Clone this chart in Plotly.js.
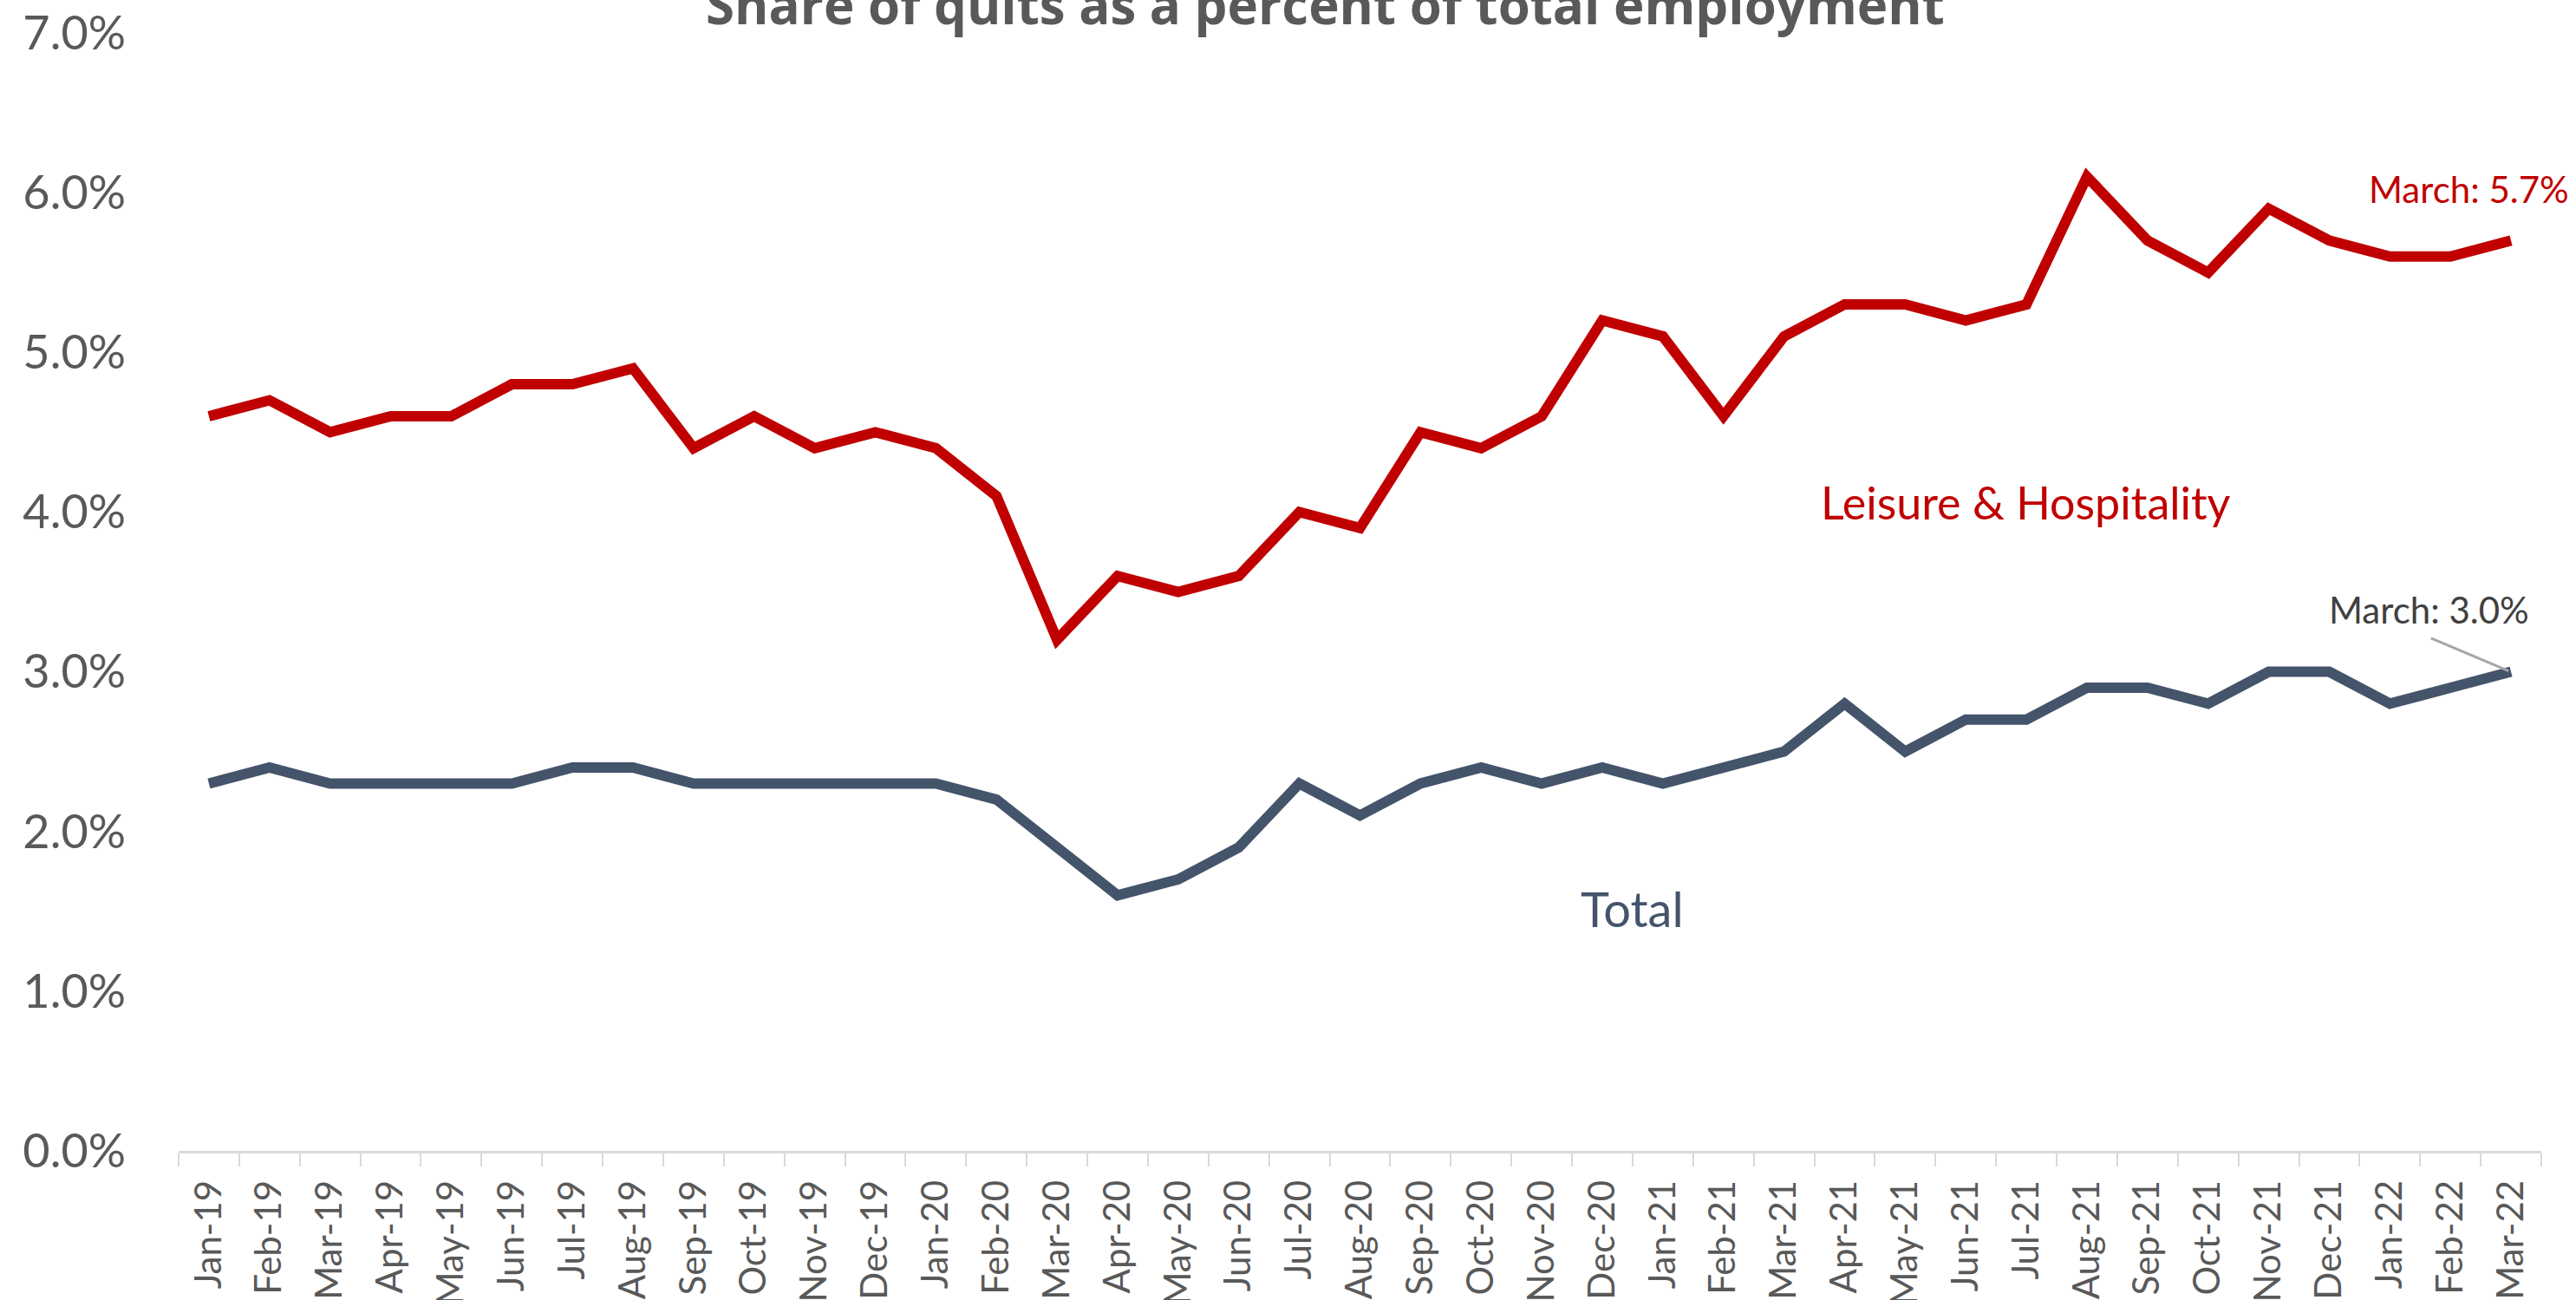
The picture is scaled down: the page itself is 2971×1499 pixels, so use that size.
<!DOCTYPE html>
<html>
<head>
<meta charset="utf-8">
<script src="https://cdn.plot.ly/plotly-3.0.1.min.js"></script>
<style>html,body{margin:0;padding:0;background:#fff;}#chart{width:2971px;height:1499px;}</style>
</head>
<body>
<div id="chart"></div>
<script>
const months = ["Jan-19","Feb-19","Mar-19","Apr-19","May-19","Jun-19","Jul-19","Aug-19","Sep-19","Oct-19","Nov-19","Dec-19",
"Jan-20","Feb-20","Mar-20","Apr-20","May-20","Jun-20","Jul-20","Aug-20","Sep-20","Oct-20","Nov-20","Dec-20",
"Jan-21","Feb-21","Mar-21","Apr-21","May-21","Jun-21","Jul-21","Aug-21","Sep-21","Oct-21","Nov-21","Dec-21",
"Jan-22","Feb-22","Mar-22"];
const leisureHospitality = [4.6,4.7,4.5,4.6,4.6,4.8,4.8,4.9,4.4,4.6,4.4,4.5,
4.4,4.1,3.2,3.6,3.5,3.6,4.0,3.9,4.5,4.4,4.6,5.2,
5.1,4.6,5.1,5.3,5.3,5.2,5.3,6.1,5.7,5.5,5.9,5.7,
5.6,5.6,5.7];
const total = [2.3,2.4,2.3,2.3,2.3,2.3,2.4,2.4,2.3,2.3,2.3,2.3,
2.3,2.2,1.9,1.6,1.7,1.9,2.3,2.1,2.3,2.4,2.3,2.4,
2.3,2.4,2.5,2.8,2.5,2.7,2.7,2.9,2.9,2.8,3.0,3.0,
2.8,2.9,3.0];
const yTicks = [0,1,2,3,4,5,6,7];
const yTickText = ["0.0%","1.0%","2.0%","3.0%","4.0%","5.0%","6.0%","7.0%"];

const RED = "#C00000", SLATE = "#44546A";
const FONT = "Lato, 'Open Sans', sans-serif";
const TITLE_FONT = "'Open Sans', Lato, sans-serif";
const last = months.length - 1;

const traces = [
  {x: months, y: leisureHospitality, type: "scatter", mode: "lines", name: "Leisure & Hospitality",
   line: {color: RED, width: 12, shape: "linear"}, hoverinfo: "skip"},
  {x: months, y: total, type: "scatter", mode: "lines", name: "Total",
   line: {color: SLATE, width: 12, shape: "linear"}, hoverinfo: "skip"}
];

const layout = {
  width: 2971, height: 1499,
  margin: {l: 206, r: 40, t: 38, b: 172},
  paper_bgcolor: "#ffffff", plot_bgcolor: "#ffffff",
  showlegend: false,
  font: {family: FONT, color: "#595959"},
  xaxis: {
    type: "category", range: [-0.5, last + 0.5],
    showgrid: false, zeroline: false,
    showline: true, linecolor: "#D9D9D9", linewidth: 3,
    ticks: "outside", tickson: "boundaries", ticklen: 15, tickwidth: 2, tickcolor: "#D9D9D9",
    tickangle: -90, tickfont: {family: FONT, size: 42, color: "#595959"},
    ticklabelstandoff: 14, fixedrange: true
  },
  yaxis: {
    range: [0, 7], tickvals: yTicks, ticktext: yTickText,
    showgrid: false, zeroline: false, showline: false, ticks: "",
    tickfont: {family: FONT, size: 54, color: "#595959"},
    ticklabelstandoff: 60, fixedrange: true
  },
  annotations: [
    {text: "<b>Share of quits as a percent of total employment</b>", xref: "paper", yref: "paper",
     x: 0.4855, y: 1.0, yshift: -10, xanchor: "center", yanchor: "bottom", showarrow: false,
     font: {family: TITLE_FONT, size: 60, color: "#595959"}},
    {text: "March: 5.7%", xref: "paper", yref: "y", x: 1.0125, y: 6.02, xanchor: "right", yanchor: "middle",
     showarrow: false, font: {family: FONT, size: 42, color: RED}},
    {text: "March: 3.0%", xref: "x", yref: "y", x: 36.65, y: 3.386, xanchor: "center", yanchor: "middle",
     showarrow: false, font: {family: FONT, size: 42, color: "#404040"}},
    {text: "Leisure & Hospitality", xref: "x", yref: "y", x: 29.99, y: 4.06, xanchor: "center", yanchor: "middle",
     showarrow: false, font: {family: FONT, size: 52, color: RED}},
    {text: "Total", xref: "x", yref: "y", x: 23.5, y: 1.516, xanchor: "center", yanchor: "middle",
     showarrow: false, font: {family: FONT, size: 56, color: SLATE}}
  ],
  shapes: [
    {type: "line", xref: "x", yref: "y", x0: 36.68, y0: 3.21, x1: 37.96, y1: 3.005,
     line: {color: "#A6A6A6", width: 3}}
  ]
};

Plotly.newPlot("chart", traces, layout, {staticPlot: true, displayModeBar: false});
</script>
</body>
</html>
